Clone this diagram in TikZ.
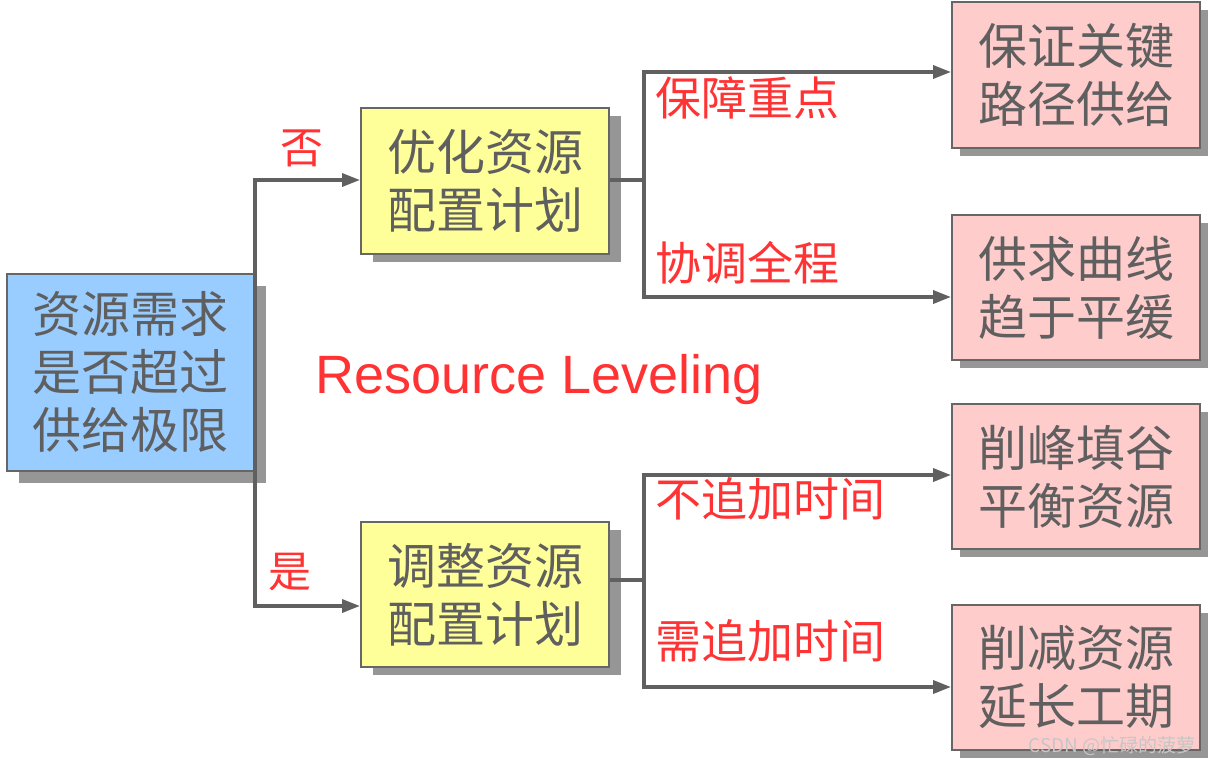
\documentclass[tikz,border=0pt]{standalone}
\usepackage{fontspec}
\newfontfamily\cjk{Noto Sans CJK SC}
\newfontfamily\arialf{Liberation Sans}
\usetikzlibrary{arrows.meta,shadows}
\definecolor{bluef}{HTML}{99CCFF}
\definecolor{yellowf}{HTML}{FFFF99}
\definecolor{pinkf}{HTML}{FFCCCC}
\definecolor{edgec}{HTML}{666666}
\definecolor{shadowc}{HTML}{969696}
\definecolor{txtc}{HTML}{5F5F5F}
\definecolor{redc}{HTML}{FF3333}
\definecolor{linec}{HTML}{606060}
\tikzset{
  box/.style={draw=edgec, line width=2pt, rectangle, inner sep=0pt, text=txtc,
    align=center, font=\cjk\fontsize{49}{58}\selectfont},
  shad/.style 2 args={drop shadow={shadow xshift=#1pt, shadow yshift=-#2pt, fill=shadowc, opacity=1}},
  conn/.style={draw=linec, line width=3.5pt},
  arr/.style={conn, -{Triangle[length=18pt,width=13pt]}},
  lbl/.style={text=redc, inner sep=0pt, font=\cjk\fontsize{46}{50}\selectfont, anchor=west},
  yn/.style={text=redc, inner sep=0pt, font=\cjk\fontsize{43}{46}\selectfont}
}
\begin{document}
\begin{tikzpicture}[x=1pt,y=-1pt]
\useasboundingbox (0,0) rectangle (1212,765);
\fill[white] (0,0) rectangle (1212,765);
% boxes
\node[box, shad={12}{12}, fill=bluef, minimum width=247pt, minimum height=197pt] (q) at (130.5,372) {资源需求\\是否超过\\供给极限};
\node[box, shad={12}{8}, fill=yellowf, minimum width=248pt, minimum height=146pt] (opt) at (485,181) {优化资源\\配置计划};
\node[box, shad={12}{8}, fill=yellowf, minimum width=248pt, minimum height=145pt] (adj) at (485,594.5) {调整资源\\配置计划};
\node[box, shad={8}{8}, fill=pinkf, minimum width=248pt, minimum height=146pt] (p1) at (1076,75) {保证关键\\路径供给};
\node[box, shad={8}{8}, fill=pinkf, minimum width=248pt, minimum height=145pt] (p2) at (1076,287.5) {供求曲线\\趋于平缓};
\node[box, shad={8}{8}, fill=pinkf, minimum width=248pt, minimum height=145pt] (p3) at (1076,476.5) {削峰填谷\\平衡资源};
\node[box, shad={8}{8}, fill=pinkf, minimum width=248pt, minimum height=145pt] (p4) at (1076,677.5) {削减资源\\延长工期};
% connectors from question box
\draw[arr] (q.east) |- ([yshift=1pt]opt.west);
\draw[arr] (q.east) |- ([yshift=-11.5pt]adj.west);
% connectors from optimise box
\draw[conn] ([yshift=1pt]opt.east) -- ++(34,0) coordinate (b1);
\draw[arr] (b1) |- ([yshift=3pt]p1.west);
\draw[arr] (b1) |- ([yshift=-9.5pt]p2.west);
% connectors from adjust box
\draw[conn] ([yshift=14.5pt]adj.east) -- ++(34,0) coordinate (b2);
\draw[arr] (b2) |- ([yshift=1.5pt]p3.west);
\draw[arr] (b2) |- ([yshift=-9.5pt]p4.west);
% labels
\node[yn] (lno) at (302,148) {否};
\node[yn] (lyes) at (290,572) {是};
\node[lbl] (l1) at (655,98) {保障重点};
\node[lbl] (l2) at (655,263) {协调全程};
\node[lbl] (l3) at (655,499) {不追加时间};
\node[lbl] (l4) at (655,641) {需追加时间};
\node[text=redc, inner sep=0pt, anchor=base west, font=\arialf\fontsize{54}{60}\selectfont] (title) at (315,393) {Resource Leveling};
\node[text=gray!45, inner sep=0pt, anchor=base east, font=\cjk\fontsize{19}{22}\selectfont] (wm) at (1196,752) {CSDN @忙碌的菠萝};
\end{tikzpicture}
\end{document}
